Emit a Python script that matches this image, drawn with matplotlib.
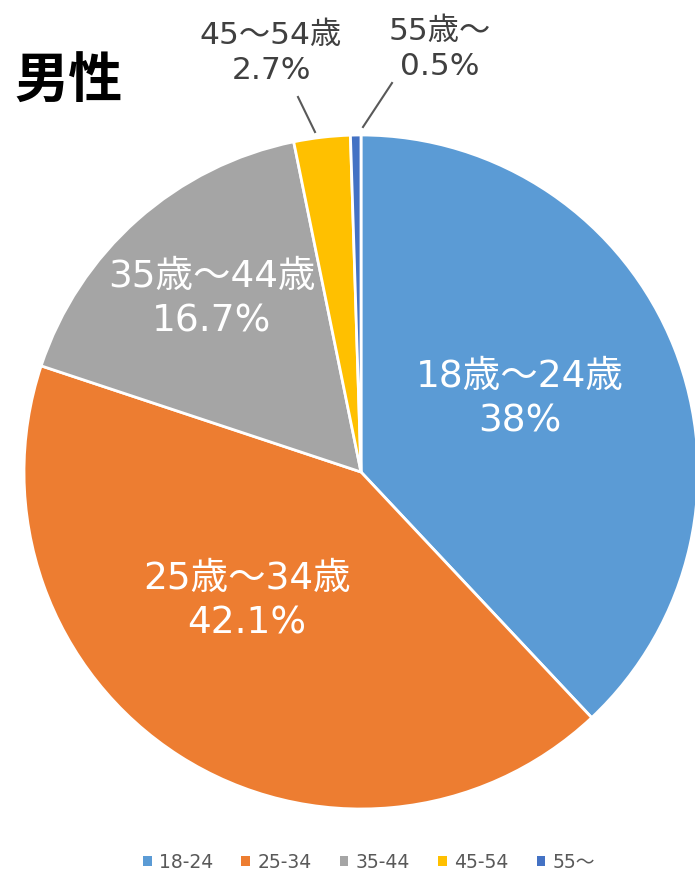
import matplotlib.pyplot as plt
from matplotlib.patches import Patch

plt.rcParams['font.family'] = ['DejaVu Sans', 'Noto Sans CJK JP']

# data
groups = ['18-24', '25-34', '35-44', '45-54', '55〜']
labels = ['18歳～24歳', '25歳～34歳', '35歳～44歳', '45～54歳', '55歳～']
pct_text = ['38%', '42.1%', '16.7%', '2.7%', '0.5%']
shares = [38.0, 42.1, 16.7, 2.7, 0.5]
colors = ['#5B9BD5', '#ED7D31', '#A5A5A5', '#FFC000', '#4472C4']

W, H = 695, 873
fig = plt.figure(figsize=(W / 100, H / 100), dpi=100)

# pie axes in pixel coords (y up)
pax = fig.add_axes([0, 0, 1, 1])
cx, cy, r = 361, H - 472, 337
pax.pie(shares, colors=colors, startangle=90, counterclock=False,
        center=(cx, cy), radius=r, frame=False,
        wedgeprops=dict(edgecolor='white', linewidth=2))
pax.set_xlim(0, W)
pax.set_ylim(0, H)
pax.set_aspect('equal')
pax.axis('off')

# overlay axes for text, pixel coords (y down)
ax = fig.add_axes([0, 0, 1, 1])
ax.set_xlim(0, W)
ax.set_ylim(H, 0)
ax.axis('off')

label_pos = [(520, 399), (247, 601), (212, 299), (271, 53), (440, 49)]
label_col = ['white', 'white', 'white', '#404040', '#404040']
label_size = [27, 27, 27, 22.5, 22.5]
label_ls = [1.3, 1.3, 1.3, 1.25, 1.25]
for i in range(len(shares)):
    x, y = label_pos[i]
    ax.text(x, y, labels[i] + '\n' + pct_text[i], ha='center', va='center',
            fontsize=label_size[i], color=label_col[i], linespacing=label_ls[i])

# leader lines
ax.plot([298, 315], [97, 132], color='#595959', lw=1.5)
ax.plot([392, 363], [83, 127], color='#595959', lw=1.5)

ax.text(14, 82, '男性', fontsize=39, fontweight='bold', va='center', ha='left',
        color='black', family=['Noto Sans CJK JP'])

handles = [Patch(facecolor=c, edgecolor='none') for c in colors]
fig.legend(handles, groups, loc='center', bbox_to_anchor=(0.531, 1 - 862 / H), ncol=5,
           frameon=False, fontsize=13.5, handlelength=0.45, handleheight=0.45,
           handletextpad=0.4, columnspacing=1.5, labelcolor='#595959')

fig.savefig('out.png', dpi=100)
